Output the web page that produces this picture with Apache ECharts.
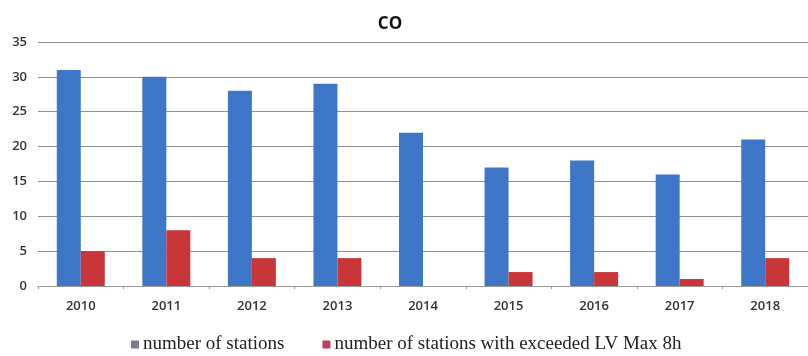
<!DOCTYPE html>
<html><head><meta charset="utf-8">
<script src="https://cdn.jsdelivr.net/npm/echarts@6/dist/echarts.min.js"></script>
<style>html,body{margin:0;padding:0;background:#fff}#c{width:808px;height:356px}</style>
</head><body><div id="c"></div>
<script>
const years = ['2010','2011','2012','2013','2014','2015','2016','2017','2018'];
const stations = [31, 30, 28, 29, 22, 17, 18, 16, 21];
const exceeded = [5, 8, 4, 4, 0, 2, 2, 1, 4];
const seriesNames = ['number of stations', 'number of stations with exceeded LV Max 8h'];
const titleText = 'CO';

const chart = echarts.init(document.getElementById('c'));
chart.setOption({
  animation: false,
  backgroundColor: '#fff',
  title: {
    text: titleText, left: 385, top: 11, textAlign: 'center',
    textStyle: { fontFamily: 'Open Sans', fontWeight: 'bold', fontSize: 17, color: '#111' }
  },
  legend: {
    left: 126, top: 330, itemGap: 38, itemWidth: 8, itemHeight: 8, icon: 'rect',
    textStyle: { fontFamily: 'Liberation Serif', fontSize: 19, color: '#222', padding: [0,0,0,-1] },
    data: [
      { name: seriesNames[0], itemStyle: { color: '#7b7b8e' } },
      { name: seriesNames[1], itemStyle: { color: '#c43d5e' } }
    ]
  },
  grid: { left: 38, right: 0, top: 42, bottom: 70 },
  xAxis: {
    type: 'category', data: years,
    axisLine: { lineStyle: { color: '#999', width: 1 } },
    axisTick: { show: true, length: 3, lineStyle: { color: '#999' } },
    axisLabel: { margin: 14, fontFamily: 'Open Sans', fontWeight: 600, fontSize: 13, color: '#333' }
  },
  yAxis: {
    type: 'value', min: 0, max: 35, interval: 5,
    axisLine: { show: false }, axisTick: { show: false },
    axisLabel: { margin: 11, fontFamily: 'Open Sans', fontWeight: 600, fontSize: 13, color: '#333' },
    splitLine: { lineStyle: { color: '#8f8f8f', width: 1 } }
  },
  series: [
    { name: seriesNames[0], type: 'bar', data: stations, barWidth: 24, barGap: '0%',
      itemStyle: { color: '#3f77c8' } },
    { name: seriesNames[1], type: 'bar', data: exceeded, barWidth: 24,
      itemStyle: { color: '#c9363a' } }
  ]
});
</script></body></html>
